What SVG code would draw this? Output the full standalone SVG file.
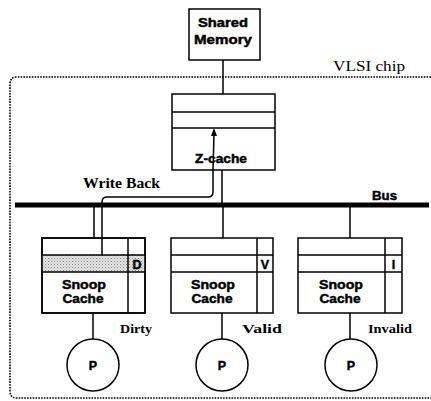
<svg xmlns="http://www.w3.org/2000/svg" width="431" height="401" viewBox="0 0 431 401">
<style>
.box{fill:#fff;stroke:#000;stroke-width:1.5}
.ln{fill:none;stroke:#000;stroke-width:1.5}
.sans{font-family:"Liberation Sans",Arial,sans-serif;font-weight:bold;font-size:12.5px;fill:#000;stroke:#000;stroke-width:0.45}
.serif{font-family:"Liberation Serif","Times New Roman",serif;fill:#000}
</style>
<defs>
<pattern id="stip" width="3" height="3" patternUnits="userSpaceOnUse">
<rect width="3" height="3" fill="#e4e4e4"/>
<rect width="1" height="1" fill="#888"/>
<rect x="1.5" y="1.5" width="1" height="1" fill="#aaa"/>
</pattern>
</defs>

<g id="chip">
<path d="M431,77 L17,77 Q10,77 10,84 L10,391 Q10,398 17,398 L431,398" fill="none" stroke="#000" stroke-width="1.6" stroke-dasharray="1.6 1.2"/>
<text class="serif" x="333" y="71" font-size="15" textLength="72" lengthAdjust="spacingAndGlyphs">VLSI chip</text>
</g>

<g id="shared-memory">
<rect class="box" x="189" y="9" width="71" height="51"/>
<text class="sans" x="223" y="27" text-anchor="middle" textLength="50" lengthAdjust="spacingAndGlyphs">Shared</text>
<text class="sans" x="223" y="44" text-anchor="middle" textLength="58" lengthAdjust="spacingAndGlyphs">Memory</text>
</g>

<g id="z-cache">
<rect class="box" x="172" y="94" width="103" height="76"/>
<line class="ln" x1="172" y1="112" x2="275" y2="112"/>
<line class="ln" x1="172" y1="128" x2="275" y2="128"/>
<text class="sans" x="221" y="163" text-anchor="middle" textLength="52" lengthAdjust="spacingAndGlyphs">Z-cache</text>
</g>

<g id="snoop-1">
<rect class="box" x="42" y="238" width="103" height="75"/>
<rect x="42" y="255" width="103" height="17" fill="url(#stip)"/>
<line class="ln" x1="42" y1="255" x2="145" y2="255"/>
<line class="ln" x1="42" y1="272" x2="145" y2="272"/>
<line class="ln" x1="128" y1="238" x2="128" y2="313"/>
<rect class="ln" x="42" y="238" width="103" height="75"/>
<text class="sans" x="137" y="269" text-anchor="middle" font-size="12">D</text>
<text class="sans" x="84" y="289" text-anchor="middle" textLength="44" lengthAdjust="spacingAndGlyphs">Snoop</text>
<text class="sans" x="83" y="303" text-anchor="middle" textLength="41" lengthAdjust="spacingAndGlyphs">Cache</text>
<text class="serif" x="120" y="333" font-size="13" font-weight="bold" textLength="32" lengthAdjust="spacingAndGlyphs">Dirty</text>
</g>

<g id="snoop-2">
<rect class="box" x="171" y="238" width="102" height="75"/>
<line class="ln" x1="171" y1="255" x2="273" y2="255"/>
<line class="ln" x1="171" y1="272" x2="273" y2="272"/>
<line class="ln" x1="257" y1="238" x2="257" y2="313"/>
<text class="sans" x="265" y="269" text-anchor="middle" font-size="12">V</text>
<text class="sans" x="213" y="289" text-anchor="middle" textLength="44" lengthAdjust="spacingAndGlyphs">Snoop</text>
<text class="sans" x="212" y="303" text-anchor="middle" textLength="41" lengthAdjust="spacingAndGlyphs">Cache</text>
<text class="serif" x="242" y="333" font-size="13" font-weight="bold" textLength="40" lengthAdjust="spacingAndGlyphs">Valid</text>
</g>

<g id="snoop-3">
<rect class="box" x="298" y="238" width="104" height="75"/>
<line class="ln" x1="298" y1="255" x2="402" y2="255"/>
<line class="ln" x1="298" y1="272" x2="402" y2="272"/>
<line class="ln" x1="385" y1="238" x2="385" y2="313"/>
<text class="sans" x="393.5" y="269" text-anchor="middle" font-size="12">I</text>
<text class="sans" x="341" y="289" text-anchor="middle" textLength="44" lengthAdjust="spacingAndGlyphs">Snoop</text>
<text class="sans" x="340" y="303" text-anchor="middle" textLength="41" lengthAdjust="spacingAndGlyphs">Cache</text>
<text class="serif" x="368" y="333" font-size="13" font-weight="bold" textLength="44" lengthAdjust="spacingAndGlyphs">Invalid</text>
</g>

<g id="p-1">
<circle class="box" cx="93" cy="365" r="26"/>
<text class="sans" x="93" y="370" text-anchor="middle" font-size="13">P</text>
</g>
<g id="p-2">
<circle class="box" cx="222" cy="365" r="26"/>
<text class="sans" x="222" y="370" text-anchor="middle" font-size="13">P</text>
</g>
<g id="p-3">
<circle class="box" cx="351" cy="365" r="26"/>
<text class="sans" x="351" y="370" text-anchor="middle" font-size="13">P</text>
</g>

<g id="connectors">
<line class="ln" x1="223" y1="60" x2="223" y2="94"/>
<line class="ln" x1="222" y1="170" x2="222" y2="205"/>
<line x1="15" y1="205" x2="429" y2="205" stroke="#000" stroke-width="5"/>
<line class="ln" x1="94" y1="205" x2="94" y2="238"/>
<line class="ln" x1="223" y1="205" x2="223" y2="238"/>
<line class="ln" x1="350" y1="205" x2="350" y2="238"/>
<path class="ln" d="M102,255 L102,202 Q102,197 107,197 L208,197 Q213,197 213,192 L213,170 L214,134"/>
<polygon points="211,136 214,128 217,136" fill="#000"/>
<line class="ln" x1="93" y1="313" x2="93" y2="339"/>
<line class="ln" x1="222" y1="313" x2="222" y2="339"/>
<line class="ln" x1="350" y1="313" x2="350" y2="339"/>
<text class="serif" x="83" y="188" font-size="15" font-weight="bold" textLength="77" lengthAdjust="spacingAndGlyphs">Write Back</text>
<text class="sans" x="372" y="200" font-size="11" textLength="25" lengthAdjust="spacingAndGlyphs">Bus</text>
</g>
</svg>
